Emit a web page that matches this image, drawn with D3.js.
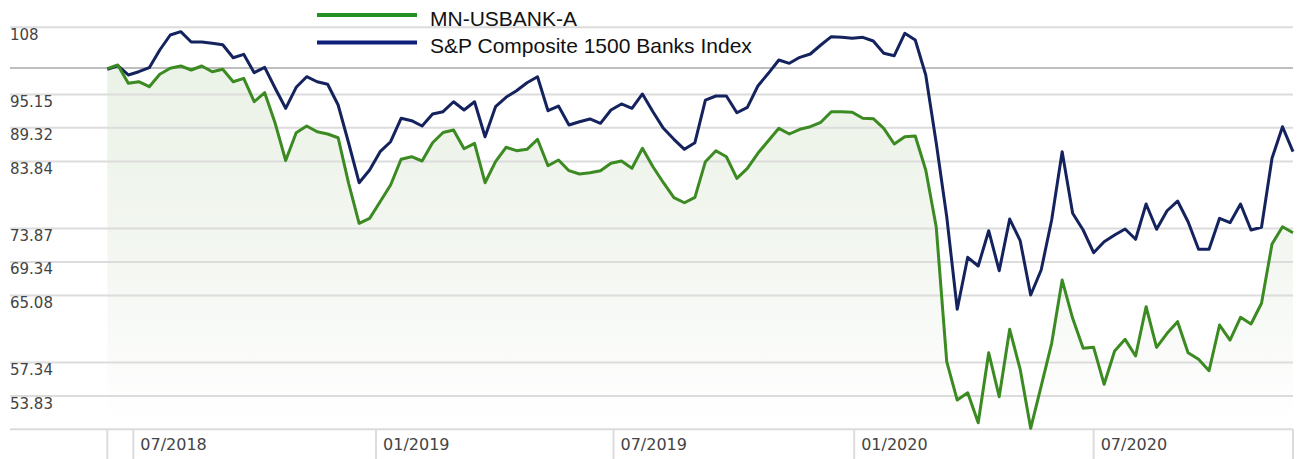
<!DOCTYPE html>
<html>
<head>
<meta charset="utf-8">
<script src="https://cdn.jsdelivr.net/npm/d3@7"></script>
<style>
  html, body { margin: 0; padding: 0; background: #fff; }
  svg { display: block; }
</style>
</head>
<body>
<svg id="chart" width="1298" height="459"></svg>
<script>
// ---- data ----
const seriesNames = ["MN-USBANK-A", "S&P Composite 1500 Banks Index"];

const bankValues = [
  99.9, 100.58, 97.16, 97.45, 96.54, 98.83, 99.95, 100.39, 99.63, 100.39,
  99.31, 99.76, 97.45, 98.08, 93.84, 95.45, 90.09, 83.98, 88.51, 89.63,
  88.67, 88.29, 87.67, 80.44, 74.58, 75.29, 77.69, 80.18, 84.17, 84.58,
  83.90, 86.85, 88.54, 88.96, 85.87, 86.75, 80.53, 83.79, 86.10, 85.55,
  85.77, 87.41, 83.16, 84.06, 82.38, 81.86, 82.06, 82.38, 83.54, 83.90,
  82.75, 85.94, 83.00, 80.53, 78.28, 77.54, 78.34, 83.79, 85.55, 84.58,
  81.20, 82.75, 85.13, 87.18, 89.24, 88.29, 89.08, 89.51, 90.26, 92.09,
  92.09, 91.98, 90.95, 90.88, 89.24, 86.64, 87.84, 87.96, 82.48, 74.07,
  57.43, 53.42, 54.16, 51.18, 58.41, 53.76, 61.05, 56.61, 50.64, 54.85,
  59.46, 67.01, 62.34, 58.90, 59.01, 55.03, 58.60, 59.91, 58.05, 63.72,
  59.01, 60.59, 61.94, 58.41, 57.69, 56.46, 61.55, 59.83, 62.46, 61.67,
  64.13, 71.73, 74.11, 73.27
];

const indexValues = [
  99.76, 100.44, 98.70, 99.31, 100.07, 103.47, 106.44, 107.11, 105.04, 105.04,
  104.78, 104.51, 101.97, 102.63, 99.13, 100.14, 96.25, 92.68, 96.43, 98.38,
  97.45, 96.98, 93.26, 86.80, 80.53, 82.48, 85.39, 87.01, 90.95, 90.54,
  89.63, 91.69, 92.09, 93.84, 92.38, 93.84, 87.84, 92.96, 94.63, 95.81,
  97.27, 98.38, 92.26, 93.08, 89.80, 90.36, 90.83, 90.09, 92.38, 93.44,
  92.68, 95.22, 92.09, 89.24, 87.41, 85.77, 86.85, 94.14, 94.86, 94.86,
  91.91, 92.85, 96.67, 99.01, 101.53, 100.90, 102.05, 102.69, 104.45, 106.10,
  105.98, 105.78, 105.98, 105.24, 102.83, 102.36, 106.78, 105.44, 98.70, 86.80,
  75.52, 63.41, 69.95, 68.81, 73.55, 68.20, 75.19, 72.18, 65.14, 68.29,
  75.05, 85.39, 76.01, 73.65, 70.56, 72.04, 72.96, 73.79, 72.37, 77.35,
  73.75, 76.38, 77.79, 74.81, 71.01, 71.01, 75.29, 74.67, 77.35, 73.65,
  74.03, 84.33, 89.51, 85.39
];

const yTickValues = [108, 95.15, 89.32, 83.84, 73.87, 69.34, 65.08, 57.34, 53.83];
const baselineValue = 100;

const xTickLabels = ["07/2018", "01/2019", "07/2019", "01/2020", "07/2020"];
const xTickIndex  = [2.48, 25.61, 48.24, 71.18, 94.0];

// ---- layout ----
const svg = d3.select("#chart");
const W = 1298, H = 459;
const plotLeft = 107.3, plotRight = 1293, gridLeft = 10;
const axisY = 429.3;

const n = bankValues.length;
const x = d3.scaleLinear().domain([0, n - 1]).range([plotLeft, plotRight]);
const y = d3.scaleLog().domain([53.83, 108]).range([396, 27.3]);

const greenLine = "#3b8a22";
const blueLine = "#14225e";

// gradient for area
const defs = svg.append("defs");
const grad = defs.append("linearGradient")
  .attr("id", "areaGrad")
  .attr("gradientUnits", "userSpaceOnUse")
  .attr("x1", 0).attr("x2", 0).attr("y1", 30).attr("y2", 425);
grad.append("stop").attr("offset", 0).attr("stop-color", "#e9f1e4");
grad.append("stop").attr("offset", 0.6).attr("stop-color", "#f4f7f2");
grad.append("stop").attr("offset", 1).attr("stop-color", "#ffffff");

// area under bank series
const area = d3.area()
  .x((d, i) => x(i))
  .y0(axisY)
  .y1(d => y(d));
svg.append("path").datum(bankValues)
  .attr("d", area)
  .attr("fill", "url(#areaGrad)");

// gridlines
svg.append("g").selectAll("line").data(yTickValues).join("line")
  .attr("x1", gridLeft).attr("x2", plotRight)
  .attr("y1", d => y(d)).attr("y2", d => y(d))
  .attr("stroke", "#dcdcdc").attr("stroke-width", 2);

// baseline at 100
svg.append("line")
  .attr("x1", gridLeft).attr("x2", plotRight)
  .attr("y1", y(baselineValue)).attr("y2", y(baselineValue))
  .attr("stroke", "#a9a9a9").attr("stroke-width", 1.5);

// y labels
svg.append("g").selectAll("text").data(yTickValues).join("text")
  .attr("x", gridLeft)
  .attr("y", d => y(d) + 12.5)
  .attr("font-family", "DejaVu Sans, Verdana, sans-serif")
  .attr("font-size", 15)
  .attr("fill", "#444")
  .text(d => d3.format(".2f")(d).replace(/\.00$/, ""));

// bottom axis line
svg.append("line")
  .attr("x1", gridLeft).attr("x2", plotRight)
  .attr("y1", axisY).attr("y2", axisY)
  .attr("stroke", "#dcdcdc").attr("stroke-width", 2);

// separators
const sepIdx = [0].concat(xTickIndex, [n - 1]);
svg.append("g").selectAll("line").data(sepIdx).join("line")
  .attr("x1", d => x(d)).attr("x2", d => x(d))
  .attr("y1", axisY).attr("y2", H)
  .attr("stroke", "#dcdcdc").attr("stroke-width", 2);

// x labels
svg.append("g").selectAll("text").data(xTickLabels).join("text")
  .attr("x", (d, i) => x(xTickIndex[i]) + 7)
  .attr("y", 449.5)
  .attr("font-family", "DejaVu Sans, Verdana, sans-serif")
  .attr("font-size", 16)
  .attr("fill", "#444")
  .text(d => d);

// lines
const line = d3.line().x((d, i) => x(i)).y(d => y(d));
svg.append("path").datum(indexValues)
  .attr("d", line).attr("fill", "none")
  .attr("stroke", blueLine).attr("stroke-width", 3)
  .attr("stroke-linejoin", "round");
svg.append("path").datum(bankValues)
  .attr("d", line).attr("fill", "none")
  .attr("stroke", greenLine).attr("stroke-width", 3)
  .attr("stroke-linejoin", "round");

// legend
const legendColors = ["#229022", "#0e1f7c"];
const legend = svg.append("g");
seriesNames.forEach((name, i) => {
  const ly = 15 + i * 27.5;
  legend.append("line")
    .attr("x1", 317).attr("x2", 417)
    .attr("y1", ly).attr("y2", ly)
    .attr("stroke", legendColors[i]).attr("stroke-width", 4);
  legend.append("text")
    .attr("x", 430).attr("y", ly + 10.5)
    .attr("font-family", "Liberation Sans, Arial, sans-serif")
    .attr("font-size", 21)
    .attr("fill", "#111")
    .text(name);
});
</script>
</body>
</html>
